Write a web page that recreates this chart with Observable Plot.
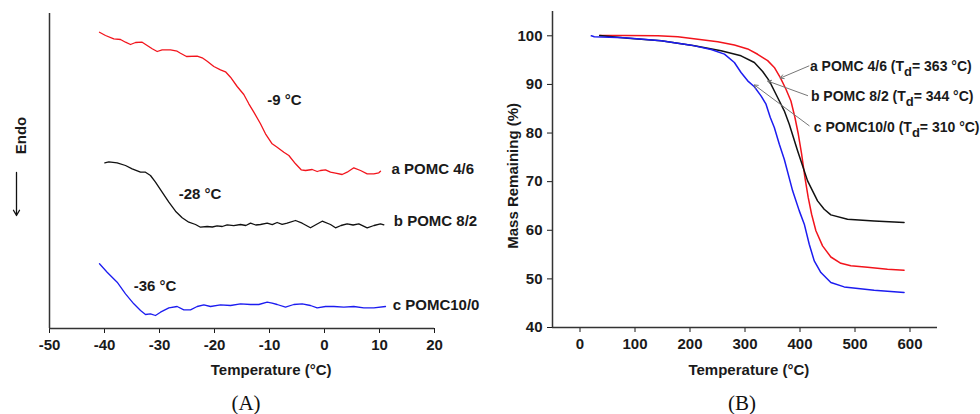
<!DOCTYPE html>
<html><head><meta charset="utf-8">
<script src="https://cdn.jsdelivr.net/npm/d3@7"></script>
<script src="https://cdn.jsdelivr.net/npm/@observablehq/plot@0.6"></script>
<style>
body{margin:0;background:#fff;}
#wrap{position:relative;width:980px;height:414px;overflow:hidden;background:#fff;}
#pa{position:absolute;left:0;top:0;}
#pb{position:absolute;left:490px;top:0;}
.cap{position:absolute;top:390px;width:60px;text-align:center;font-family:"Liberation Serif","Times New Roman",serif;font-size:21px;color:#111;line-height:26px;}
</style>
</head><body>
<div id="wrap"><div id="pa"></div><div id="pb"></div>
<div class="cap" style="left:216px">(A)</div>
<div class="cap" style="left:712px">(B)</div>
</div>
<script>
// ---------- Panel A : DSC (temperature °C, arbitrary heat flow) ----------
const dscTicks = [-50, -40, -30, -20, -10, 0, 10, 20];
const dscA = [[-40.91,296.3],[-39.82,293],[-38.31,289.7],[-37.09,289],[-36.18,286.3],[-35.27,284],[-34.36,286],[-33.15,286.3],[-32.24,283],[-31.33,279.7],[-30.42,277],[-29.52,278.7],[-28,278.7],[-26.79,277.3],[-26.18,275.3],[-25.09,272],[-23.15,272.3],[-22.24,270.7],[-21.33,267.3],[-20.12,262],[-18.91,258.7],[-18,256.7],[-17.09,251.3],[-15.88,242],[-14.67,234],[-13.76,224.7],[-12.85,216.3],[-11.64,204.7],[-10.73,194.7],[-9.52,184.7],[-8.61,181.3],[-7.39,176.3],[-6.48,173],[-5.27,164.7],[-4.24,158.7],[-3.45,158],[-2.24,159],[-1.33,157],[-0.73,158],[0.18,158.7],[1.09,156.3],[2,155.3],[3.21,154],[4.12,156.3],[5.33,160.7],[6.55,158],[7.76,154.7],[8.97,154.7],[9.88,155.7],[10.18,157.3]];
const dscB = [[-39.94,165.7],[-39.21,166.7],[-37.7,165.7],[-36.18,163],[-34.97,159.7],[-33.45,156.3],[-32.55,156.3],[-31.64,153],[-30.73,146.3],[-29.52,136.3],[-28.3,126.3],[-27.09,117.3],[-25.88,110.7],[-24.67,106.3],[-23.45,104],[-22.55,101.3],[-21.33,102],[-20.4,101.5],[-19.52,102.7],[-18.6,102],[-17.7,103.7],[-16.5,102.8],[-15.27,104],[-14.3,103],[-13.45,105.3],[-12.5,103.5],[-11.64,104],[-10.42,105.3],[-9.5,103.8],[-8.61,106],[-7.7,104.2],[-6.79,105.3],[-5.27,108],[-4.06,105.3],[-2.55,100.7],[-1.5,104],[-0.42,107.3],[1.09,104],[2,100.7],[3,103],[4.12,104.7],[5.2,103.5],[6.24,104.7],[7.76,100.7],[9,103],[10.18,104.7],[10.79,103.7]];
const dscC = [[-40.91,64.7],[-39.52,56.3],[-37.7,46.3],[-36.18,34.7],[-34.67,24.7],[-33.45,18],[-32.55,14],[-31.64,14.7],[-30.73,13],[-29.82,16.3],[-28.3,20.7],[-26.79,22],[-25.58,18.7],[-24.36,18.7],[-23.15,22],[-21.94,23.7],[-20.73,22],[-18.91,23.7],[-17.09,23],[-15.27,24.7],[-13.45,24],[-11.94,24],[-10.42,26.3],[-9.52,25.3],[-8.61,24],[-7.09,21.3],[-5.58,24],[-4.06,24.7],[-2.55,23],[-1.33,20.7],[0.18,22],[1.7,22],[3.52,21.3],[5.33,22],[7.15,20.7],[8.97,20.7],[11.09,22]];
const dscLabels = [
  {x: -10.4, y: 228, text: "-9 °C"},
  {x: -26.5, y: 134, text: "-28 °C"},
  {x: -34.7, y: 42, text: "-36 °C"},
  {x: 12.2, y: 159, text: "a POMC 4/6"},
  {x: 12.6, y: 107, text: "b POMC 8/2"},
  {x: 12.4, y: 23, text: "c POMC10/0"}
];

// ---------- Panel B : TGA ----------
const tgaXTicks = [0, 100, 200, 300, 400, 500, 600];
const tgaYTicks = [40, 50, 60, 70, 80, 90, 100];
const tgaA = [[35.7,100.07],[81,100.07],[141.6,100],[177.9,99.8],[214.2,99.3],[250.5,98.8],[280.7,98.1],[304.9,97.3],[323,96.2],[341.2,94.9],[353.3,93.5],[364.2,91.4],[374.5,89.0],[383.5,86.6],[390.8,83.2],[396.9,79.8],[402.9,75.7],[408.9,70.9],[415,66.7],[421.1,63.3],[428.9,59.9],[441,56.8],[456.1,54.5],[474.3,53.2],[492.4,52.7],[522.7,52.4],[559,52.0],[589.2,51.8]];
const tgaB = [[35.7,100.07],[87.1,99.52],[147.6,98.97],[208.1,97.94],[256.5,96.91],[292.8,95.88],[317,94.51],[332.1,92.66],[344.2,90.74],[359.3,87.31],[371.4,84.57],[380.5,81.82],[395.6,76.34],[413.8,70.16],[431.9,66.05],[444,64.33],[456.1,63.17],[486.4,62.28],[534.8,61.93],[589.2,61.59]];
const tgaC = [[20.6,100],[26,99.8],[81.1,99.59],[147.6,98.97],[202.1,98.08],[238.4,97.19],[262.6,96.23],[280.7,94.51],[292.8,92.46],[304.9,90.74],[317,89.51],[329.1,87.65],[338.2,85.94],[346,83.2],[353.3,81.14],[362.4,77.71],[371.4,74.62],[386.6,68.11],[398.7,63.99],[407.8,61.25],[416.8,57.13],[425.9,53.7],[438,51.3],[456.1,49.25],[480.3,48.35],[534.8,47.67],[589.2,47.19]];
const tgaLabels = [
  {x: 418, y: 93.6, text: "a POMC 4/6 (Td= 363 °C)"},
  {x: 419.8, y: 87.45, text: "b POMC 8/2 (Td= 344 °C)"},
  {x: 425.2, y: 81.1, text: "c POMC10/0 (Td= 310 °C)"}
];
const tgaArrows = [
  {x1: 416.2, y1: 93.8, x2: 364.1, y2: 91.3},
  {x1: 413.8, y1: 87.7, x2: 341.2, y2: 90.7},
  {x1: 416.7, y1: 81.5, x2: 316.9, y2: 89.9}
];

const font = {fontFamily: '"Liberation Sans", Arial, sans-serif', fontSize: "15px", fontWeight: "bold", color: "#1a1a1a", background: "transparent", overflow: "visible"};
const RED = "#f2141c", BLUE = "#1c1cf0", BLACK = "#111";

const plotA = Plot.plot({
  width: 490, height: 390,
  marginLeft: 49, marginRight: 56, marginTop: 13, marginBottom: 62,
  style: font,
  x: {domain: [-50, 20], ticks: dscTicks, tickFormat: d => String(d), tickSize: 5, tickPadding: 6, label: null},
  y: {domain: [0, 315], axis: null},
  marks: [
    Plot.ruleY([0], {stroke: "#333", strokeWidth: 1.5}),
    Plot.ruleX([-50], {stroke: "#333", strokeWidth: 1.5}),
    Plot.line(dscA, {x: d => d[0], y: d => d[1], stroke: RED, strokeWidth: 1.3}),
    Plot.line(dscB, {x: d => d[0], y: d => d[1], stroke: BLACK, strokeWidth: 1.3}),
    Plot.line(dscC, {x: d => d[0], y: d => d[1], stroke: BLUE, strokeWidth: 1.3}),
    Plot.text(dscLabels, {x: "x", y: "y", text: "text", textAnchor: "start", fill: "#1a1a1a"}),
    Plot.text(["Temperature (°C)"], {x: -9.7, frameAnchor: "bottom", lineAnchor: "middle", dy: 42, fill: "#1a1a1a"}),
    Plot.text(["Endo"], {y: 193, frameAnchor: "left", textAnchor: "middle", lineAnchor: "middle", dx: -28, rotate: -90, fill: "#1a1a1a"}),
    Plot.arrow([0], {x1: -50, x2: -50, y1: 156, y2: 113, dx: -33, stroke: "#111", strokeWidth: 1.3, headLength: 7})
  ]
});
document.getElementById("pa").appendChild(plotA);

const plotB = Plot.plot({
  width: 490, height: 390,
  marginLeft: 62, marginRight: 43, marginTop: 11, marginBottom: 63,
  style: font,
  x: {domain: [-50, 650], ticks: tgaXTicks, tickFormat: d => String(d), tickSize: 5, tickPadding: 6, label: null},
  y: {domain: [40, 105], ticks: tgaYTicks, tickFormat: d => String(d), tickSize: 5, tickPadding: 5, label: null},
  marks: [
    Plot.ruleY([40], {stroke: "#333", strokeWidth: 1.5}),
    Plot.ruleX([-50], {stroke: "#333", strokeWidth: 1.5}),
    Plot.line(tgaA, {x: d => d[0], y: d => d[1], stroke: RED, strokeWidth: 1.5}),
    Plot.line(tgaB, {x: d => d[0], y: d => d[1], stroke: BLACK, strokeWidth: 1.5}),
    Plot.line(tgaC, {x: d => d[0], y: d => d[1], stroke: BLUE, strokeWidth: 1.5}),
    Plot.arrow(tgaArrows, {x1: "x1", y1: "y1", x2: "x2", y2: "y2", stroke: "#777", strokeWidth: 1, headLength: 6}),
    Plot.text(tgaLabels, {x: "x", y: "y", text: "text", textAnchor: "start", fontSize: 14, fill: "#1a1a1a"}),
    Plot.text(["Temperature (°C)"], {x: 307, frameAnchor: "bottom", lineAnchor: "middle", dy: 43, fill: "#1a1a1a"}),
    Plot.text(["Mass Remaining (%)"], {y: 71.2, frameAnchor: "left", textAnchor: "middle", lineAnchor: "middle", dx: -39, rotate: -90, fill: "#1a1a1a"})
  ]
});
document.getElementById("pb").appendChild(plotB);

// subscript "d" in T_d labels
d3.select(plotB).selectAll("text").each(function() {
  const t = this.textContent;
  const i = t.indexOf("(Td=");
  if (i >= 0 && this.childElementCount === 0) {
    const pre = t.slice(0, i + 2), post = t.slice(i + 3);
    const sel = d3.select(this);
    sel.text(null);
    sel.append("tspan").text(pre);
    sel.append("tspan").attr("dy", "0.35em").attr("font-size", "13px").text("d");
    sel.append("tspan").attr("dy", "-0.35em").text(post);
  }
});
</script>
</body></html>
